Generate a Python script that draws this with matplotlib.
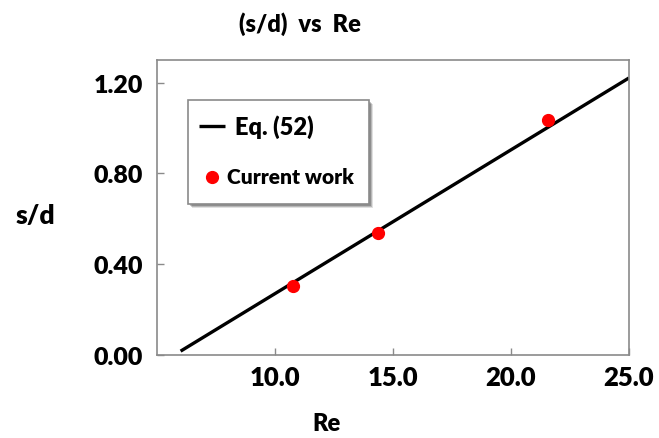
import matplotlib
matplotlib.use("Agg")
import matplotlib.pyplot as plt
from matplotlib.patches import Rectangle
from matplotlib.lines import Line2D

# Eq. (52) correlation line (endpoints) and current-work data points
eq_re = [6.0, 25.0]
eq_sd = [0.017, 1.221]
cur_re = [10.76, 14.37, 21.55]
cur_sd = [0.303, 0.536, 1.036]

xticks = [10.0, 15.0, 20.0, 25.0]
yticks = [0.00, 0.40, 0.80, 1.20]

plt.rcParams['font.family'] = ['Lato', 'DejaVu Sans']
W, H = 659, 439
WT = 'heavy'

fig = plt.figure(figsize=(W/100, H/100), dpi=100)
ax = fig.add_axes([157/W, 1 - 356/H, (629-157)/W, (356-61)/H])

ax.plot(eq_re, eq_sd, color='black', lw=2.4, solid_capstyle='butt')
ax.plot(cur_re, cur_sd, 'o', color='red', ms=8.5, zorder=3)

ax.set_xlim(5, 25)
ax.set_ylim(0, 1.3)
ax.set_xticks(xticks)
ax.set_xticklabels([f"{v:.1f}" for v in xticks])
ax.set_yticks(yticks)
ax.set_yticklabels([f"{v:.2f}" for v in yticks])

for s in ax.spines.values():
    s.set_color('#8a8a8a')
    s.set_linewidth(1.2)
ax.tick_params(direction='in', length=5, width=1, color='#8a8a8a',
               labelsize=18, labelcolor='black')
ax.tick_params(axis='x', pad=7, labelsize=18.5)
ax.tick_params(axis='y', pad=10)
for lab in ax.get_xticklabels() + ax.get_yticklabels():
    lab.set_fontweight(WT)

fig.text(300/W, 1 - 24/H, '(s/d)  vs  Re', ha='center', va='center',
         fontsize=17, fontweight=WT)
fig.text(35/W, 1 - 216/H, 's/d', ha='center', va='center',
         fontsize=19, fontweight=WT)
fig.text(326/W, 1 - 424/H, 'Re', ha='center', va='center',
         fontsize=17, fontweight=WT)

# legend panel with drop shadow
def fx(px):
    return px / W

def fy(py):
    return 1 - py / H

bx0, by0, bx1, by1 = 188, 101, 369, 205
for off, alpha in [(4, 0.12), (3, 0.18), (2, 0.22)]:
    fig.patches.append(Rectangle((fx(bx0 + off), fy(by1 + off)),
                                 fx(bx1 - bx0), (by1 - by0) / H,
                                 transform=fig.transFigure, facecolor='black',
                                 edgecolor='none', alpha=alpha, zorder=5))
fig.patches.append(Rectangle((fx(bx0), fy(by1)), fx(bx1 - bx0), (by1 - by0) / H,
                             transform=fig.transFigure, facecolor='white',
                             edgecolor='#8a8a8a', linewidth=1.2, zorder=6))
fig.lines.append(Line2D([fx(199), fx(225)], [fy(127), fy(127)],
                        transform=fig.transFigure, color='black', lw=2.4,
                        solid_capstyle='butt', zorder=7))
fig.lines.append(Line2D([fx(212)], [fy(178)], transform=fig.transFigure,
                        marker='o', color='red', ms=8.5, linestyle='none', zorder=7))
fig.text(fx(235), fy(127), 'Eq. (52)', ha='left', va='center',
         fontsize=17, fontweight=WT, zorder=8)
fig.text(fx(227), fy(178), 'Current work', ha='left', va='center',
         fontsize=15, fontweight=WT, zorder=8)

fig.savefig('out.png', dpi=100)
